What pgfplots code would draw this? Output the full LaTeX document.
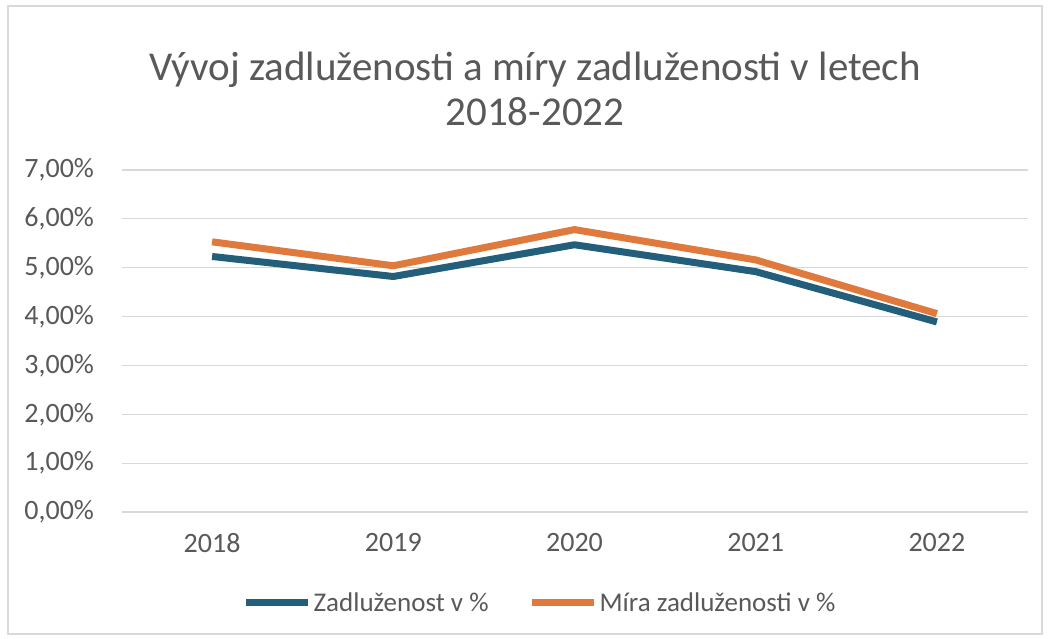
\documentclass[border=0pt]{standalone}
\usepackage{fontspec}
\setmainfont{Carlito}
\usepackage{pgfplots}
\pgfplotsset{compat=1.18}
\definecolor{serblue}{HTML}{235E7A}
\definecolor{serorange}{HTML}{E07A3C}
\definecolor{txtgray}{HTML}{595959}
\definecolor{gridgray}{HTML}{D9D9D9}
\begin{document}
\begin{tikzpicture}[x=1pt,y=1pt]
\useasboundingbox (0,0) rectangle (1048,638);
\fill[white] (0,0) rectangle (1048,638);
\draw[gridgray, line width=1.5pt] (8,4) rectangle (1042,632);
\node[anchor=center, align=center, text=txtgray, font=\fontsize{41}{45}\selectfont] at (535,549) {Vývoj zadluženosti a míry zadluženosti v letech\\2018-2022};
\begin{axis}[
  at={(121.5pt,126pt)}, anchor=south west,
  scale only axis, width=906pt, height=342pt,
  xmin=-0.5, xmax=4.5, ymin=0, ymax=7,
  xtick={0,1,2,3,4},
  xticklabels={2018,2019,2020,2021,2022},
  ytick={0,1,2,3,4,5,6,7},
  yticklabels={{0,00\%},{1,00\%},{2,00\%},{3,00\%},{4,00\%},{5,00\%},{6,00\%},{7,00\%}},
  major tick length=0pt,
  axis line style={draw=none},
  ymajorgrids, grid style={gridgray, line width=1.2pt},
  tick label style={text=txtgray, font=\fontsize{28}{32}\selectfont},
  yticklabel style={xshift=-24pt},
  xticklabel style={yshift=-18pt},
  legend style={at={(0.462,-0.266)}, anchor=center, draw=none, fill=none,
    legend columns=2, font=\fontsize{27}{31}\selectfont, text=txtgray,
    /tikz/every even column/.append style={column sep=38pt},
    inner sep=0pt},
  legend image code/.code={\draw[#1] (0pt,0pt) -- (62pt,0pt);},
  legend cell align=left,
]
\addplot[serblue, line width=7pt, line join=round] coordinates {(0,5.23) (1,4.82) (2,5.47) (3,4.92) (4,3.89)};
\addlegendentry{Zadluženost v \%}
\addplot[serorange, line width=7pt, line join=round] coordinates {(0,5.53) (1,5.04) (2,5.78) (3,5.16) (4,4.06)};
\addlegendentry{Míra zadluženosti v \%}
\end{axis}
\end{tikzpicture}
\end{document}
